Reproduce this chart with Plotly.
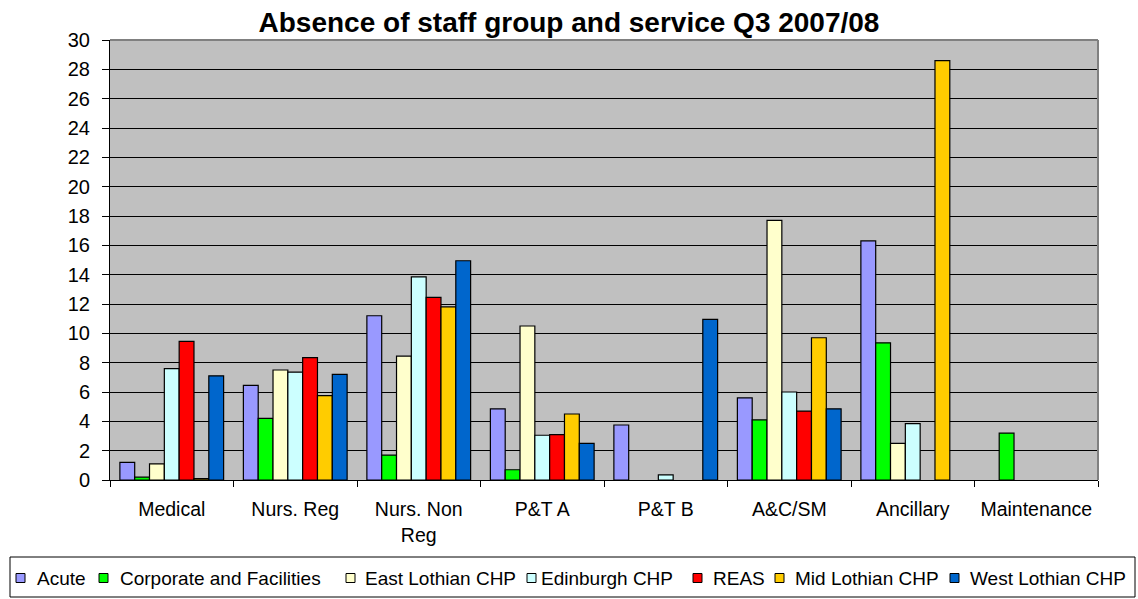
import plotly.graph_objects as go

categories = ["Medical", "Nurs. Reg", "Nurs. Non<br>Reg", "P&T A", "P&T B",
              "A&C/SM", "Ancillary", "Maintenance"]

acute = [1.2, 6.45, 11.2, 4.85, 3.75, 5.6, 16.3, None]
corporate = [0.2, 4.2, 1.7, 0.7, None, 4.1, 9.35, 3.2]
east_lothian = [1.1, 7.5, 8.45, 10.5, None, 17.7, 2.5, None]
edinburgh = [7.6, 7.35, 13.85, 3.05, 0.35, 6.0, 3.85, None]
reas = [9.45, 8.35, 12.45, 3.1, None, 4.7, None, None]
mid_lothian = [0.1, 5.75, 11.8, 4.5, None, 9.7, 28.6, None]
west_lothian = [7.1, 7.2, 14.95, 2.5, 10.95, 4.85, None, None]

series_names = ["Acute", "Corporate and Facilities", "East Lothian CHP",
                "Edinburgh CHP", "REAS", "Mid Lothian CHP", "West Lothian CHP"]
series_values = [acute, corporate, east_lothian, edinburgh, reas,
                 mid_lothian, west_lothian]
series_colors = ["#9999FF", "#00FF00", "#FFFFCC", "#CCFFFF", "#FF0000",
                 "#FFCC00", "#0066CC"]

y_ticks = list(range(0, 31, 2))

# page geometry (pixels)
W, H = 1138, 599
L, R, T, B = 110, 40, 40, 119
PW, PH = W - L - R, H - T - B

def px_x(x):
    return (x - L) / PW

def px_y(y):
    return (H - B - y) / PH

FONT = "Arial, Liberation Sans, sans-serif"

fig = go.Figure()
for name, vals, color in zip(series_names, series_values, series_colors):
    fig.add_trace(go.Bar(
        name=name, x=categories, y=vals, showlegend=False,
        marker=dict(color=color, line=dict(color="black", width=1.2)),
    ))

fig.update_layout(
    width=W, height=H,
    margin=dict(l=L, r=R, t=T, b=B),
    paper_bgcolor="white",
    plot_bgcolor="#C0C0C0",
    barmode="group",
    bargap=0.16,
    bargroupgap=0,
    font=dict(family=FONT, size=20, color="black"),
    title=dict(text="<b>Absence of staff group and service Q3 2007/08</b>",
               x=px_x(569), xanchor="center", xref="paper",
               y=1 - 22 / H, yanchor="middle",
               font=dict(size=28, family=FONT)),
    xaxis=dict(showline=True, linecolor="black", linewidth=1,
               ticks="outside", ticklen=6, tickcolor="black",
               tickson="boundaries", tickfont=dict(size=19.5),
               tickangle=0, ticklabelstandoff=12, automargin=False),
    yaxis=dict(range=[0, 30], tickvals=y_ticks, showgrid=True,
               gridcolor="black", gridwidth=1, showline=True,
               linecolor="black", linewidth=1, ticks="outside",
               ticklen=7, tickcolor="black", zeroline=False,
               tickfont=dict(size=20), ticklabelstandoff=8,
               automargin=False),
)

# gray frame on top and right of the plotting area
fig.add_shape(type="line", xref="paper", yref="paper", x0=0, x1=1, y0=1, y1=1,
              line=dict(color="#808080", width=2))
fig.add_shape(type="line", xref="paper", yref="paper", x0=1, x1=1, y0=0, y1=1,
              line=dict(color="#808080", width=2))

# legend box along the bottom, one row of swatches and labels
fig.add_shape(type="rect", xref="paper", yref="paper",
              x0=px_x(10), x1=px_x(1135), y0=px_y(557), y1=px_y(597),
              line=dict(color="black", width=1), fillcolor="white")

swatch_left = [16, 99, 346, 527, 693, 775, 950]
label_left = [36, 119, 364, 540, 712, 794, 969]
legend_mid = 578
for name, color, sx, tx in zip(series_names, series_colors,
                               swatch_left, label_left):
    fig.add_shape(type="rect", xref="paper", yref="paper",
                  x0=px_x(sx), x1=px_x(sx + 9),
                  y0=px_y(legend_mid - 4.5), y1=px_y(legend_mid + 4.5),
                  line=dict(color="black", width=1), fillcolor=color)
    fig.add_annotation(text=name, xref="paper", yref="paper",
                       x=px_x(tx), y=px_y(legend_mid), xanchor="left",
                       yanchor="middle", showarrow=False, borderpad=0,
                       font=dict(size=19, family=FONT, color="black"))

fig.write_html("out.html")
